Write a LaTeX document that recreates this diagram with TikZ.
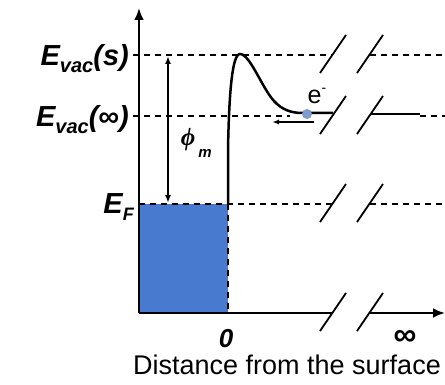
\documentclass[tikz,border=0pt]{standalone}
\usepackage{fontspec}
\setmainfont{Liberation Sans}
\newfontfamily\phifont{Liberation Serif}
\usetikzlibrary{arrows.meta}
\definecolor{metal}{RGB}{72,122,208}
\definecolor{elec}{RGB}{125,155,205}
\begin{document}
\begin{tikzpicture}[x=1pt,y=-1pt,
  axis/.style={line width=2.6pt},
  level/.style={line width=2pt, dash pattern=on 6pt off 5pt},
  brk/.style={line width=1.8pt},
  lab/.style={font=\fontsize{29}{32}\selectfont\bfseries\itshape, anchor=base east, inner sep=0pt},
]
\useasboundingbox (0,0) rectangle (445,385);
% coordinates
\coordinate (O) at (139,313);
\coordinate (Ytop) at (139,8);
\coordinate (EF0) at (228,204);
\coordinate (X0) at (228,313);
% metal
\fill[metal] (139,204) rectangle (X0);
% dashed levels
\draw[level] (133,55) -- (333,55);
\draw[level] (370,55) -- (445,55);
\draw[level] (133,116) -- (290,116);
\draw[level] (420,116) -- (445,116);
\draw[line width=2.4pt] (370,114) -- (420,114);
\draw[level] (139,204) -- (333,204);
\draw[level] (370,204) -- (445,204);
\draw[level] (EF0) -- (X0);
% axes
\draw[axis,-{Latex[length=12pt,width=10pt]}] (O) -- (Ytop);
\draw[axis] (O) -- (333,313);
\draw[axis,-{Latex[length=12pt,width=10pt]}] (370,313) -- (445,313);
% breaks
\foreach \y in {55,116,204,313}{
  \draw[brk] (320,\y+18) -- (346,\y-20);
  \draw[brk] (357,\y+18) -- (383,\y-20);
}
% potential curve
\draw[line width=2.5pt] (EF0) -- (228,150) .. controls (229,95) and (232,54) .. (240,54)
  .. controls (250,54) and (262,88) .. (274,101)
  .. controls (282,110) and (292,113) .. (302,113) -- (333,113);
% electron
\fill[elec] (307,114) circle (5);
\node[font=\fontsize{25}{26}\selectfont, inner sep=0pt] (e) at (317,96) {e\raisebox{0.45em}{\fontsize{14}{14}\selectfont -}};
\draw[line width=1.5pt,-{Latex[length=7pt,width=5pt]}] (314,122) -- (272,122);
% work function arrow
\draw[line width=1.8pt,{Latex[length=8pt,width=6pt]}-{Latex[length=8pt,width=6pt]}] (168,56) -- (168,203);
\node[inner sep=0pt,font=\phifont\fontsize{25}{26}\selectfont\bfseries\itshape] (phi) at (188,140) {ϕ};
\node[inner sep=0pt,font=\fontsize{15}{16}\selectfont\bfseries\itshape] (m) at (205,153) {m};
% labels
\node[lab] (Evs) at (129,66) {E\raisebox{-0.22em}{\fontsize{20}{20}\selectfont vac}(s)};
\node[lab] (Evi) at (129,127) {E\raisebox{-0.22em}{\fontsize{20}{20}\selectfont vac}(∞)};
\node[lab] (EF) at (134,214) {E\raisebox{-0.22em}{\fontsize{18}{18}\selectfont F}};
\node[inner sep=0pt,font=\fontsize{26}{26}\selectfont\bfseries\itshape] (zero) at (226,339) {0};
\node[inner sep=0pt,font=\fontsize{32}{32}\selectfont\bfseries] (inf) at (405,338) {∞};
\node[inner sep=0pt,font=\fontsize{27}{30}\selectfont] (dist) at (287,365) {Distance from the surface};
\end{tikzpicture}
\end{document}
